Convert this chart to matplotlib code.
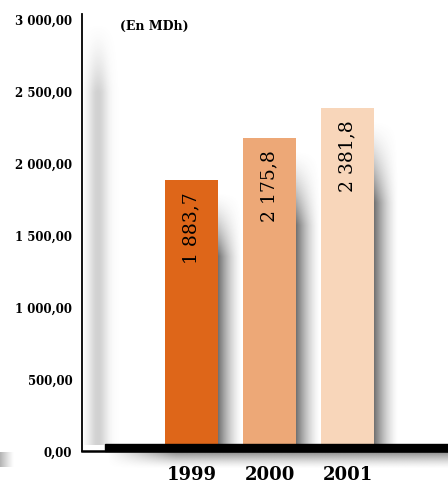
import numpy as np
import matplotlib
matplotlib.use('Agg')
import matplotlib.pyplot as plt
from matplotlib.patches import Rectangle

# données
years = ['1999', '2000', '2001']
values = [1883.7, 2175.8, 2381.8]
bar_labels = ['1 883,7', '2 175,8', '2 381,8']
colors = ['#DE6619', '#EDA877', '#F8D6BA']
yticks = [0, 500, 1000, 1500, 2000, 2500, 3000]
ytick_labels = ['0,00', '500,00', '1 000,00', '1 500,00', '2 000,00', '2 500,00', '3 000,00']

plt.rcParams['font.family'] = 'DejaVu Serif'

W, H = 448, 485
fig = plt.figure(figsize=(W / 100, H / 100), dpi=100)


def shade(axe, x0, x1, ybot, ytop, ax_alpha, ay_alpha, gris=0.4):
    # ombre en dégradé : ay_alpha va du haut vers le bas
    a = np.outer(ay_alpha, ax_alpha)
    img = np.zeros(a.shape + (4,))
    img[..., :3] = gris
    img[..., 3] = np.clip(a, 0, 1)
    axe.imshow(img, extent=(x0, x1, ybot, ytop), origin='upper',
               aspect='auto', interpolation='bilinear', zorder=1)


# fond en pixels pour les ombres de l'axe et de la base (y vers le bas)
bg = fig.add_axes([0, 0, 1, 1], zorder=0)
t = np.linspace(0, 1, 60)
px = np.linspace(84, 120, 60)
shade(bg, 84, 120, 446, 22, 0.33 * np.exp(-((px - 98) / 10) ** 2),
      np.clip(np.linspace(0, 1, 200) * 6, 0, 1) ** 1.5, gris=0.45)
shade(bg, 105, 448, 470, 453, np.clip(t * 5, 0, 1), 0.75 * (1 - t) ** 1.5, gris=0.4)
shade(bg, 0, 14, 468, 453, 0.6 * (1 - t) ** 1.2, np.ones(10), gris=0.5)
bg.set_xlim(0, W)
bg.set_ylim(H, 0)
bg.axis('off')

# axes principaux
ymax = 3000 * 437 / 432
ax = fig.add_axes([82 / W, 33 / H, 366 / W, 437 / H], zorder=1)
ax.patch.set_visible(False)

x = np.arange(len(years))
width = 0.68
ax.bar(x, values, width=width, color=colors, zorder=3)

# ombres à droite des barres
for xi, v in zip(x, values):
    top = v - 80
    shade(ax, xi + width / 2, xi + width / 2 + 0.32, 0, top,
          0.8 * (1 - t) ** 1.6, np.clip(np.linspace(0, 1, 200) * 4, 0, 1) ** 1.5, gris=0.3)

for xi, v, lab in zip(x, values, bar_labels):
    ax.text(xi, v - 80, lab, rotation=90, ha='center', va='top', fontsize=13.5, zorder=4)

# base épaisse noire
ax.add_patch(Rectangle((-1.109, 0), 3.288 + 1.109, 52, color='black', zorder=5, clip_on=False))

ax.set_xlim(-1.404, 3.288)
ax.set_ylim(0, ymax)
ax.spines['top'].set_visible(False)
ax.spines['right'].set_visible(False)
ax.spines['left'].set_linewidth(1.3)
ax.spines['bottom'].set_linewidth(1.8)

ax.set_yticks(yticks, ytick_labels, fontsize=8.5, fontweight='bold')
ax.set_xticks(x, years, fontsize=13, fontweight='bold')
ax.tick_params(axis='y', length=0, pad=7)
ax.tick_params(axis='x', length=0, pad=10)

fig.text(120 / W, 1 - 26 / H, '(En MDh)', fontsize=9, fontweight='bold', va='center')

plt.savefig('out.png', dpi=100)
